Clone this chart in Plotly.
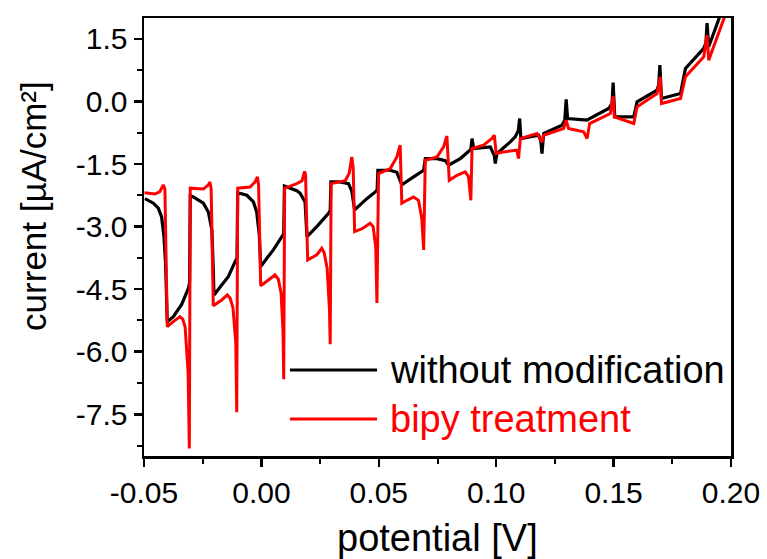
import plotly.graph_objects as go

# ---- data (potential in V, current in µA/cm²) ----
black_v = [-0.0496, -0.0460, -0.0439, -0.0425, -0.0415, -0.0408, -0.0401, -0.0375, -0.0339, -0.0311,
           -0.0306, -0.0303, -0.0290, -0.0247, -0.0226, -0.0211, -0.0205, -0.0202, -0.0169, -0.0141,
           -0.0112, -0.0104, -0.0101, -0.0062, -0.0034, -0.0020, -0.0009, -0.0003, 0.0023, 0.0051,
           0.0087, 0.0095, 0.0098, 0.0151, 0.0165, 0.0186, 0.0194, 0.0236, 0.0286, 0.0293,
           0.0296, 0.0335, 0.0371, 0.0385, 0.0397, 0.0449, 0.0485, 0.0493, 0.0496, 0.0549,
           0.0577, 0.0591, 0.0598, 0.0648, 0.0691, 0.0698, 0.0748, 0.0783, 0.0797, 0.0847,
           0.0882, 0.0892, 0.0897, 0.0904, 0.0975, 0.0992, 0.0996, 0.1003, 0.1060, 0.1081,
           0.1094, 0.1100, 0.1105, 0.1181, 0.1190, 0.1195, 0.1202, 0.1280, 0.1292, 0.1298,
           0.1304, 0.1387, 0.1398, 0.1479, 0.1493, 0.1498, 0.1505, 0.1586, 0.1600, 0.1685,
           0.1692, 0.1697, 0.1704, 0.1785, 0.1806, 0.1884, 0.1893, 0.1898, 0.1905, 0.1955,
           0.1976]
black_i = [-2.33, -2.44, -2.56, -2.77, -3.24, -3.90, -5.28, -5.16, -4.86, -4.48,
           -4.35, -2.26, -2.29, -2.44, -2.65, -3.08, -4.00, -4.64, -4.40, -4.20,
           -3.84, -3.76, -2.19, -2.25, -2.41, -2.65, -3.20, -3.96, -3.76, -3.56,
           -3.24, -3.18, -2.03, -2.14, -2.20, -2.41, -3.24, -3.00, -2.68, -2.62,
           -1.93, -1.93, -1.97, -2.15, -2.60, -2.33, -2.17, -2.12, -1.65, -1.65,
           -1.70, -1.93, -2.00, -1.81, -1.65, -1.37, -1.37, -1.42, -1.53, -1.37,
           -1.21, -1.15, -0.89, -1.13, -1.09, -1.30, -1.49, -1.25, -0.97, -0.85,
           -0.70, -0.41, -0.89, -0.81, -0.95, -1.25, -0.77, -0.57, -0.45, 0.05,
           -0.41, -0.45, -0.41, -0.17, -0.05, 0.45, -0.37, -0.37, -0.01, 0.27,
           0.40, 0.87, 0.07, 0.19, 0.79, 1.27, 1.40, 1.88, 1.31, 2.03,
           2.40]

red_v = [-0.0498, -0.0453, -0.0432, -0.0418, -0.0411, -0.0406, -0.0401, -0.0375, -0.0347, -0.0335,
         -0.0325, -0.0312, -0.0307, -0.0303, -0.0247, -0.0226, -0.0219, -0.0214, -0.0208, -0.0205,
         -0.0169, -0.0145, -0.0133, -0.0121, -0.0109, -0.0105, -0.0101, -0.0048, -0.0027, -0.0017,
         -0.0012, -0.0008, -0.0003, 0.0030, 0.0058, 0.0072, 0.0084, 0.0092, 0.0095, 0.0099,
         0.0151, 0.0173, 0.0184, 0.0188, 0.0194, 0.0197, 0.0236, 0.0257, 0.0267, 0.0280,
         0.0290, 0.0293, 0.0297, 0.0357, 0.0374, 0.0385, 0.0391, 0.0397, 0.0429, 0.0463,
         0.0476, 0.0487, 0.0492, 0.0499, 0.0549, 0.0577, 0.0591, 0.0598, 0.0620, 0.0648,
         0.0669, 0.0683, 0.0691, 0.0698, 0.0748, 0.0776, 0.0790, 0.0800, 0.0833, 0.0868,
         0.0882, 0.0892, 0.0897, 0.0946, 0.0982, 0.0992, 0.1000, 0.1032, 0.1088, 0.1095,
         0.1103, 0.1174, 0.1195, 0.1202, 0.1287, 0.1298, 0.1308, 0.1372, 0.1387, 0.1398,
         0.1486, 0.1498, 0.1503, 0.1586, 0.1600, 0.1685, 0.1699, 0.1704, 0.1785, 0.1806,
         0.1884, 0.1898, 0.1905, 0.1976, 0.1997]
red_i = [-2.19, -2.22, -2.16, -2.00, -2.10, -3.50, -5.40, -5.28, -5.16, -5.22,
         -5.40, -6.50, -8.32, -2.08, -2.10, -2.00, -1.93, -2.10, -4.00, -4.90,
         -4.76, -4.64, -4.72, -4.95, -5.80, -7.45, -2.08, -2.05, -1.93, -1.81,
         -2.00, -3.50, -4.42, -4.28, -4.16, -4.26, -4.60, -5.50, -6.66, -2.08,
         -1.97, -1.90, -1.68, -1.75, -3.00, -3.80, -3.68, -3.52, -3.62, -4.00,
         -5.00, -5.82, -1.97, -1.90, -1.72, -1.33, -1.60, -3.12, -3.05, -2.92,
         -3.00, -3.50, -4.83, -1.73, -1.61, -1.33, -1.05, -2.44, -2.37, -2.29,
         -2.37, -2.80, -3.56, -1.41, -1.33, -1.09, -0.83, -1.89, -1.77, -1.69,
         -1.80, -2.37, -1.13, -1.05, -0.89, -0.81, -1.25, -1.21, -1.17, -1.37,
         -0.89, -0.77, -0.97, -0.81, -0.65, -0.45, -0.65, -0.73, -0.89, -0.53,
         -0.29, 0.13, -0.37, -0.53, -0.13, 0.19, 0.59, -0.05, 0.07, 0.59,
         1.07, 1.59, 0.99, 2.03, 2.40]

series_names = ["without modification", "bipy treatment"]
series_colors = ["#000000", "#ff0000"]

x_ticks = [-0.05, 0.00, 0.05, 0.10, 0.15, 0.20]
x_labels = ["-0.05", "0.00", "0.05", "0.10", "0.15", "0.20"]
y_ticks = [-7.5, -6.0, -4.5, -3.0, -1.5, 0.0, 1.5]
y_labels = ["-7.5", "-6.0", "-4.5", "-3.0", "-1.5", "0.0", "1.5"]

FONT = "Liberation Sans, Arial, sans-serif"

fig = go.Figure()
fig.add_trace(go.Scatter(x=black_v, y=black_i, mode="lines", name=series_names[0],
                         line=dict(color=series_colors[0], width=3.2), showlegend=False))
fig.add_trace(go.Scatter(x=red_v, y=red_i, mode="lines", name=series_names[1],
                         line=dict(color=series_colors[1], width=3), showlegend=False))

axis_common = dict(showgrid=False, zeroline=False, showline=True, linecolor="black",
                   linewidth=2.5, mirror=True, ticks="outside", ticklen=8, tickwidth=2.5,
                   tickcolor="black", automargin=False,
                   tickfont=dict(family=FONT, size=30, color="black"))

fig.update_xaxes(range=[-0.05, 0.20], tickmode="array", tickvals=x_ticks, ticktext=x_labels,
                 minor=dict(dtick=0.025, tick0=-0.05, ticks="outside", ticklen=5, tickwidth=2,
                            tickcolor="black", showgrid=False),
                 **axis_common)
fig.update_yaxes(range=[-8.5, 2.0], tickmode="array", tickvals=y_ticks, ticktext=y_labels,
                 minor=dict(dtick=0.75, tick0=0, ticks="outside", ticklen=5, tickwidth=2,
                            tickcolor="black", showgrid=False),
                 **axis_common)

# manual legend (line samples + labels), placed in paper coordinates
legend_y = [0.1963, 0.0845]
for name, color, ly in zip(series_names, series_colors, legend_y):
    fig.add_shape(type="line", xref="paper", yref="paper", x0=0.2487, x1=0.397, y0=ly, y1=ly,
                  line=dict(color=color, width=3))
    fig.add_annotation(xref="paper", yref="paper", x=0.4157, y=ly, text=name, showarrow=False,
                       xanchor="left", yanchor="middle",
                       font=dict(family=FONT, size=38, color=color))

fig.add_annotation(xref="paper", yref="paper", x=0.5, y=-0.187, text="potential [V]",
                   showarrow=False, xanchor="center", yanchor="middle",
                   font=dict(family=FONT, size=38, color="black"))
fig.add_annotation(xref="paper", yref="paper", x=-0.1874, y=0.571, text="current [µA/cm²]",
                   showarrow=False, xanchor="center", yanchor="middle", textangle=-90,
                   font=dict(family=FONT, size=35, color="black"))

fig.update_layout(width=767, height=559, margin=dict(l=144, r=36, t=18, b=103),
                  paper_bgcolor="white", plot_bgcolor="white", hovermode=False)

fig.write_html("out.html", config={"displayModeBar": False, "staticPlot": True},
               post_script="document.body.style.margin='0';document.body.style.padding='0';"
                           "document.body.style.overflow='hidden';")
